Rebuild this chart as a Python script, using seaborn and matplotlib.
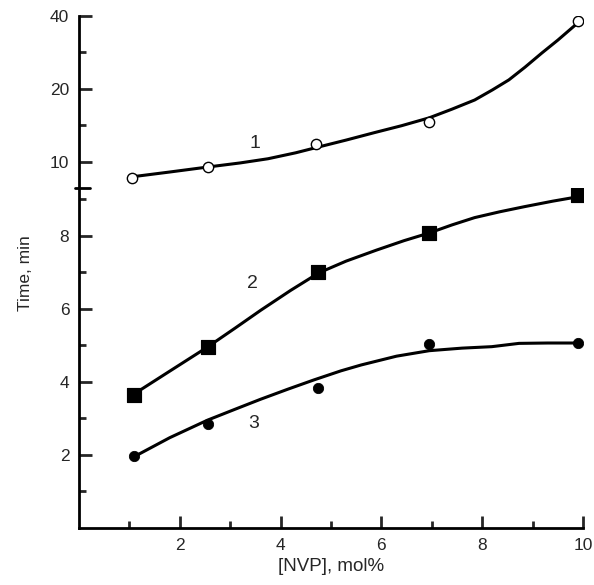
import numpy as np
import matplotlib
matplotlib.use("Agg")
import matplotlib.pyplot as plt
import seaborn as sns
from matplotlib.ticker import NullFormatter

sns.set_theme(style="white")
plt.rcParams['font.family'] = ['Liberation Sans', 'DejaVu Sans']

# measured points
nvp_1 = [1.05, 2.55, 4.7, 6.95, 9.9]
time_1 = [8.6, 9.55, 11.9, 14.6, 38.2]
nvp_2 = [1.1, 2.55, 4.75, 6.95, 9.9]
time_2 = [3.65, 4.95, 7.0, 8.07, 9.1]
nvp_3 = [1.1, 2.55, 4.75, 6.95, 9.9]
time_3 = [1.97, 2.85, 3.83, 5.03, 5.06]

# smoothed curves
curve1_x = [1.04, 1.8, 2.57, 3.2, 3.75, 4.3, 4.74, 5.3, 5.86, 6.4, 6.95, 7.4, 7.85, 8.2, 8.53, 8.85, 9.18, 9.5, 9.78, 9.92]
curve1_y = [8.67, 9.08, 9.53, 9.9, 10.3, 10.9, 11.5, 12.3, 13.2, 14.1, 15.2, 16.5, 18.0, 19.8, 21.8, 24.6, 28.1, 31.8, 35.7, 37.8]
curve2_x = [1.12, 1.8, 2.55, 3.1, 3.61, 4.2, 4.76, 5.3, 5.9, 6.45, 6.95, 7.4, 7.85, 8.35, 8.84, 9.4, 9.9]
curve2_y = [3.69, 4.29, 4.95, 5.47, 5.96, 6.5, 6.98, 7.3, 7.6, 7.86, 8.07, 8.29, 8.49, 8.65, 8.79, 8.94, 9.06]
curve3_x = [1.12, 1.8, 2.55, 3.1, 3.6, 4.15, 4.66, 5.2, 5.6, 6.3, 6.95, 7.6, 8.19, 8.73, 9.3, 9.9]
curve3_y = [1.97, 2.47, 2.95, 3.25, 3.52, 3.8, 4.05, 4.3, 4.46, 4.7, 4.85, 4.92, 4.96, 5.05, 5.06, 5.06]

W, H = 594, 585
fig = plt.figure(figsize=(W / 100, H / 100), dpi=100)
left, right = 79, 583
ax_top = fig.add_axes([left / W, (H - 188) / H, (right - left) / W, 172 / H])
ax_low = fig.add_axes([left / W, (H - 528) / H, (right - left) / W, 340 / H])

lw_axis = 2.0
for ax in (ax_top, ax_low):
    for s in ax.spines.values():
        s.set_visible(False)
    ax.spines['left'].set_visible(True)
    ax.spines['left'].set_linewidth(lw_axis)
    ax.spines['left'].set_color('black')
    ax.set_facecolor('none')
    ax.set_xlim(0, 10)
ax_low.spines['bottom'].set_visible(True)
ax_low.spines['bottom'].set_linewidth(lw_axis)
ax_low.spines['bottom'].set_color('black')

# upper part (log scale)
sns.lineplot(x=curve1_x, y=curve1_y, ax=ax_top, color='black', linewidth=2.2, sort=False)
sns.scatterplot(x=nvp_1, y=time_1, ax=ax_top, marker='o', s=55, facecolor='white',
                edgecolor='black', linewidth=1.0, zorder=5)
ax_top.set_yscale('log')
ax_top.set_ylim(7.8, 40)
ax_top.set_yticks([10, 20, 40], labels=['10', '20', '40'])
ax_top.set_yticks([14.14, 28.28], minor=True)
ax_top.yaxis.set_minor_formatter(NullFormatter())
ax_top.set_xticks([])
ax_top.tick_params(axis='y', which='major', direction='in', length=9, width=2, labelsize=12.5, pad=7, left=True)
ax_top.tick_params(axis='y', which='minor', direction='in', length=5, width=2, left=True)
ax_top.text(3.49, 11.9, '1', fontsize=14, ha='center', va='center')

# lower part (linear)
sns.lineplot(x=curve2_x, y=curve2_y, ax=ax_low, color='black', linewidth=2.2, sort=False)
sns.lineplot(x=curve3_x, y=curve3_y, ax=ax_low, color='black', linewidth=2.2, sort=False)
sns.scatterplot(x=nvp_2, y=time_2, ax=ax_low, marker='s', s=110, color='black',
                edgecolor='black', zorder=5)
sns.scatterplot(x=nvp_3, y=time_3, ax=ax_low, marker='o', s=55, color='black',
                edgecolor='black', zorder=5)
ax_low.set_ylim(0, 9.3)
ax_low.set_yticks([2, 4, 6, 8], labels=['2', '4', '6', '8'])
ax_low.set_yticks([1, 3, 5, 7, 9], minor=True)
ax_low.set_xticks([2, 4, 6, 8, 10], labels=['2', '4', '6', '8', '10'])
ax_low.set_xticks([1, 3, 5, 7, 9], minor=True)
ax_low.tick_params(which='major', direction='in', length=9, width=2, labelsize=12.5, pad=7,
                   left=True, bottom=True)
ax_low.tick_params(which='minor', direction='in', length=5, width=2, left=True, bottom=True)
ax_low.text(3.45, 6.68, '2', fontsize=14, ha='center', va='center')
ax_low.text(3.47, 2.87, '3', fontsize=14, ha='center', va='center')

# axis break mark
ax_low.plot([-0.008, 0.022], [1.0, 1.0], transform=ax_low.transAxes, color='black',
            linewidth=2, clip_on=False)

ax_low.set_xlabel('[NVP], mol%', fontsize=13.5, labelpad=4)
fig.text(26 / W, 1 - 273 / H, 'Time, min', rotation=90, fontsize=12.5, ha='center', va='center')

fig.savefig('out.png', dpi=100, facecolor='white')
